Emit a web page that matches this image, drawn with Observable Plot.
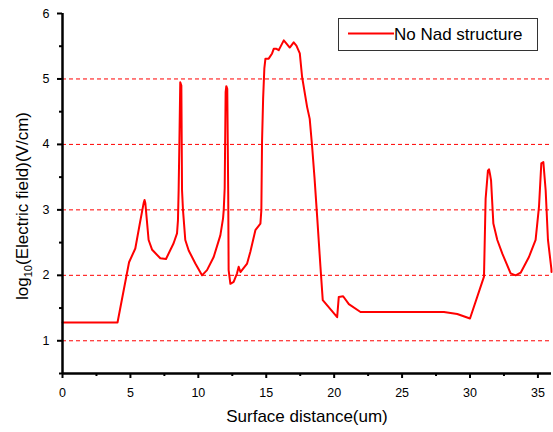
<!DOCTYPE html>
<html>
<head>
<meta charset="utf-8">
<script src="https://cdn.jsdelivr.net/npm/d3@7"></script>
<script src="https://cdn.jsdelivr.net/npm/@observablehq/plot@0.6"></script>
<style>
  html, body { margin: 0; padding: 0; background: #fff; }
  svg { display: block; }
</style>
</head>
<body>
<div id="chart"></div>
<script>
// Surface distance (um)
const distance = [
  0, 4.05, 4.9, 5.36, 5.7, 5.97, 6.04, 6.1, 6.34, 6.6, 7.2, 7.62, 8.18, 8.43, 8.5, 8.55, 8.6, 8.67, 8.75, 8.8, 8.87,
  9.04, 9.29, 9.78, 10.27, 10.64, 11.13, 11.62, 11.82, 11.87, 11.94, 12.01, 12.06, 12.13, 12.2, 12.23, 12.36, 12.6,
  12.85, 12.97, 13.1, 13.59, 13.83, 14.2, 14.57, 14.64, 14.69, 14.77, 14.86, 14.94, 15.18, 15.43, 15.55, 15.75, 15.92,
  16.29, 16.49, 16.73, 17.02, 17.22, 17.47, 17.64, 18.01, 18.2, 18.38, 18.55, 18.75, 18.99, 19.16, 20.22, 20.34, 20.66,
  21.08, 21.94, 28.08, 29.06, 30.0, 31.03, 31.15, 31.32, 31.4, 31.47, 31.55, 31.72, 32.01, 32.38, 32.99, 33.36, 33.73,
  34.34, 34.83, 35.08, 35.25, 35.4, 35.57, 35.74, 35.99, 36
];
// log10(Electric field) (V/cm), series "No Nad structure"
const logField = [
  1.28, 1.28, 2.2, 2.41, 2.8, 3.1, 3.15, 3.1, 2.54, 2.39, 2.26, 2.25, 2.49, 2.64, 2.84, 3.3, 3.96, 4.95, 4.9, 3.3, 3.0,
  2.54, 2.38, 2.18, 2.0, 2.08, 2.28, 2.61, 2.87, 3.0, 3.33, 4.8, 4.89, 4.85, 3.25, 2.08, 1.87, 1.9,
  2.03, 2.13, 2.05, 2.18, 2.36, 2.69, 2.79, 3.0, 4.04, 4.7, 5.16, 5.31, 5.31, 5.39, 5.46, 5.46, 5.44,
  5.59, 5.54, 5.48, 5.56, 5.51, 5.39, 5.03, 4.57, 4.39, 3.96, 3.5, 2.89, 2.13, 1.62, 1.36, 1.67, 1.68,
  1.56, 1.44, 1.44, 1.41, 1.34, 1.98, 3.17, 3.6, 3.62, 3.55, 3.45, 2.79, 2.54, 2.33, 2.03, 2.0, 2.04,
  2.28, 2.54, 3.05, 3.71, 3.73, 3.3, 2.54, 2.1, 2.05
];
const seriesName = "No Nad structure";
const xMajorTicks = [0, 5, 10, 15, 20, 25, 30, 35];
const xMinorTicks = [2.5, 7.5, 12.5, 17.5, 22.5, 27.5, 32.5];
const yMajorTicks = [1, 2, 3, 4, 5, 6];
const yMinorTicks = [0.5, 1.5, 2.5, 3.5, 4.5, 5.5];
const gridValues = [1, 2, 3, 4, 5];

const data = distance.map((d, i) => ({x: d, y: logField[i]}));
const font = "'Liberation Sans', Arial, sans-serif";

const W = 553, H = 432;
const plot = Plot.plot({
  width: W, height: H,
  marginLeft: 62, marginRight: 2, marginTop: 13, marginBottom: 59,
  style: {fontFamily: font, background: "#fff", color: "#000"},
  x: {domain: [0, 36]},
  y: {domain: [0.5, 6]},
  marks: [
    Plot.ruleY(gridValues, {stroke: "#ff0000", strokeWidth: 1, strokeDasharray: "4,3"}),
    Plot.line(data, {x: "x", y: "y", stroke: "#ff0000", strokeWidth: 2}),
    Plot.axisX({ticks: xMajorTicks, tickSize: 5, tickPadding: 10, fontSize: 12.5, label: null, strokeWidth: 2, tickFormat: d => String(d)}),
    Plot.axisX({ticks: xMinorTicks, tickSize: 3, label: null, strokeWidth: 2, text: null}),
    Plot.axisY({ticks: yMajorTicks, tickSize: 5, tickPadding: 8, fontSize: 12.5, label: null, strokeWidth: 2, tickFormat: d => String(d)}),
    Plot.axisY({ticks: yMinorTicks, tickSize: 3, label: null, strokeWidth: 2, text: null}),
    Plot.ruleX([0], {stroke: "#000", strokeWidth: 2.5}),
    Plot.ruleY([0.5], {stroke: "#000", strokeWidth: 2.5})
  ]
});

const svg = d3.select(plot);
// Axis titles
svg.append("text")
  .attr("x", 307).attr("y", 422)
  .attr("text-anchor", "middle")
  .attr("font-family", font).attr("font-size", 17)
  .text("Surface distance(um)");

const yl = svg.append("text")
  .attr("transform", "translate(28,206) rotate(-90)")
  .attr("text-anchor", "middle")
  .attr("font-family", font).attr("font-size", 17);
yl.append("tspan").text("log");
yl.append("tspan").attr("font-size", 11).attr("dy", 4).text("10");
yl.append("tspan").attr("dy", -4).text("(Electric field)(V/cm)");

// Legend
const lg = svg.append("g");
lg.append("rect").attr("x", 338.5).attr("y", 18.5).attr("width", 199).attr("height", 32)
  .attr("fill", "#fff").attr("stroke", "#333").attr("stroke-width", 1);
lg.append("line").attr("x1", 348).attr("x2", 394).attr("y1", 33.5).attr("y2", 33.5)
  .attr("stroke", "#ff0000").attr("stroke-width", 2);
lg.append("text").attr("x", 394).attr("y", 40)
  .attr("text-anchor", "start")
  .attr("font-family", font).attr("font-size", 17).text(seriesName);

document.getElementById("chart").appendChild(plot);
</script>
</body>
</html>
